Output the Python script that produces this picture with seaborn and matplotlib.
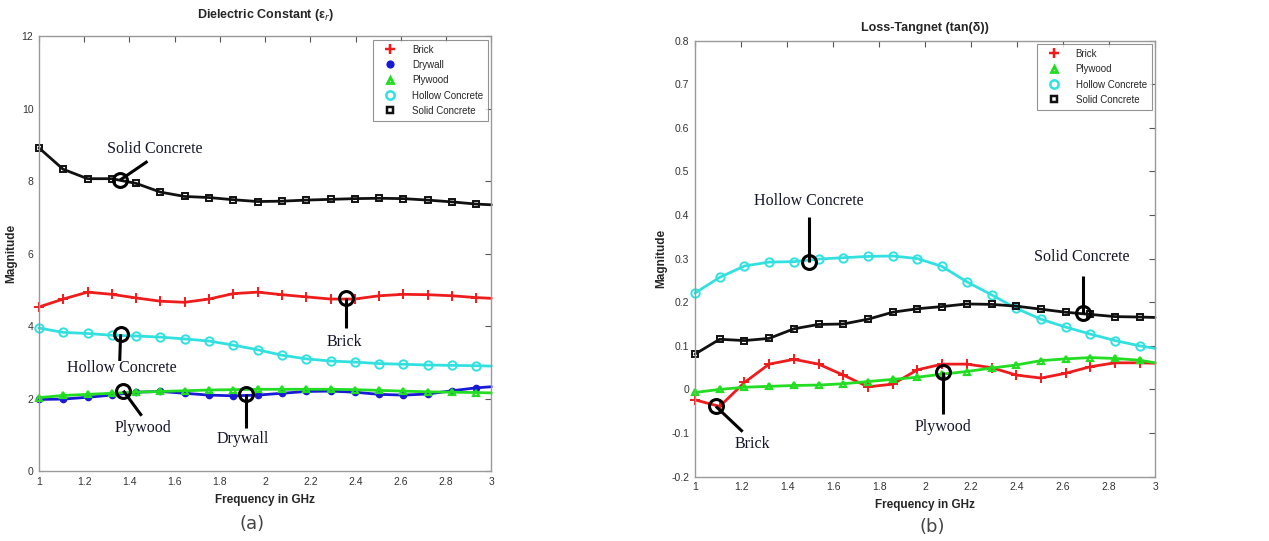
import numpy as np
import pandas as pd
import matplotlib
matplotlib.use('Agg')
import matplotlib.pyplot as plt
from matplotlib.lines import Line2D
import seaborn as sns

# marker frequencies (GHz); the last value 3.0 only closes the line
freq = [1.0, 1.107, 1.215, 1.322, 1.43, 1.537, 1.644, 1.752, 1.859, 1.967,
        2.074, 2.181, 2.289, 2.396, 2.504, 2.611, 2.718, 2.826, 2.933, 3.0]

# (a) dielectric constant
eps_brick = [4.53, 4.75, 4.94, 4.88, 4.78, 4.69, 4.66, 4.75, 4.90, 4.94,
             4.87, 4.81, 4.75, 4.75, 4.84, 4.88, 4.87, 4.84, 4.79, 4.77]
eps_drywall = [1.98, 1.99, 2.04, 2.10, 2.18, 2.20, 2.15, 2.10, 2.08, 2.10,
               2.15, 2.20, 2.21, 2.18, 2.12, 2.10, 2.13, 2.22, 2.30, 2.33]
eps_plywood = [2.03, 2.09, 2.12, 2.15, 2.18, 2.20, 2.22, 2.24, 2.25, 2.26,
               2.26, 2.26, 2.26, 2.25, 2.23, 2.21, 2.19, 2.18, 2.17, 2.16]
eps_hollow = [3.95, 3.83, 3.80, 3.75, 3.73, 3.70, 3.65, 3.59, 3.48, 3.35,
              3.20, 3.10, 3.04, 3.01, 2.97, 2.95, 2.93, 2.92, 2.91, 2.90]
eps_solid = [8.92, 8.33, 8.07, 8.07, 7.94, 7.70, 7.58, 7.55, 7.49, 7.44,
             7.45, 7.48, 7.50, 7.52, 7.53, 7.52, 7.48, 7.43, 7.37, 7.35]

# (b) loss tangent
tan_brick = [-0.024, -0.039, 0.016, 0.058, 0.069, 0.058, 0.033, 0.006, 0.012, 0.045,
             0.058, 0.058, 0.050, 0.033, 0.026, 0.037, 0.052, 0.061, 0.061, 0.060]
tan_plywood = [-0.007, 0.0, 0.005, 0.007, 0.009, 0.010, 0.013, 0.018, 0.023, 0.028,
               0.035, 0.041, 0.049, 0.056, 0.066, 0.070, 0.073, 0.071, 0.067, 0.061]
tan_hollow = [0.221, 0.257, 0.283, 0.292, 0.293, 0.299, 0.302, 0.305, 0.306, 0.300,
              0.282, 0.247, 0.217, 0.186, 0.161, 0.143, 0.127, 0.112, 0.100, 0.094]
tan_solid = [0.081, 0.115, 0.112, 0.117, 0.139, 0.149, 0.150, 0.161, 0.177, 0.185,
             0.190, 0.196, 0.195, 0.191, 0.184, 0.177, 0.172, 0.167, 0.166, 0.165]

styles = {
    'Brick': dict(color='#ee1c1c', marker='+', ms=7, mew=1.4, mfc='none'),
    'Drywall': dict(color='#1a1ad6', marker='o', ms=4.5, mew=1.0, mfc='#1a1ad6'),
    'Plywood': dict(color='#22dd22', marker='^', ms=5, mew=1.6, mfc='none'),
    'Hollow Concrete': dict(color='#33e0e0', marker='o', ms=6, mew=1.4, mfc='none'),
    'Solid Concrete': dict(color='#111111', marker='s', ms=5, mew=1.4, mfc='none'),
}

series_a = {'Brick': eps_brick, 'Drywall': eps_drywall, 'Plywood': eps_plywood,
            'Hollow Concrete': eps_hollow, 'Solid Concrete': eps_solid}
series_b = {'Brick': tan_brick, 'Plywood': tan_plywood,
            'Hollow Concrete': tan_hollow, 'Solid Concrete': tan_solid}

# annotation: label, circle (x, y), line end (x, y), text (x, y)
notes_a = [
    ('Solid Concrete', (1.358, 8.03), (1.48, 8.55), (1.51, 8.88)),
    ('Brick', (2.356, 4.79), (2.356, 3.94), (2.35, 3.57)),
    ('Hollow Concrete', (1.361, 3.78), (1.357, 3.04), (1.365, 2.84)),
    ('Plywood', (1.373, 2.22), (1.454, 1.53), (1.461, 1.18)),
    ('Drywall', (1.914, 2.12), (1.914, 1.18), (1.90, 0.90)),
]
notes_b = [
    ('Hollow Concrete', (1.494, 0.293), (1.494, 0.396), (1.495, 0.432)),
    ('Solid Concrete', (2.686, 0.175), (2.686, 0.26), (2.681, 0.303)),
    ('Brick', (1.091, -0.039), (1.207, -0.097), (1.25, -0.125)),
    ('Plywood', (2.08, 0.041), (2.08, -0.056), (2.08, -0.087)),
]

sns.set_style('white')
plt.rcParams['font.family'] = ['Liberation Sans', 'DejaVu Sans']

fig = plt.figure(figsize=(12.69, 5.41), dpi=100)
ax_a = fig.add_axes([0.0307, 0.129, 0.3565, 0.804])
ax_b = fig.add_axes([0.5477, 0.119, 0.3625, 0.806])

mark_idx = list(range(len(freq) - 1))


def draw(ax, series, notes, title, title_pad, ylabel_x, ylim, yticks):
    for name, vals in series.items():
        df = pd.DataFrame({'freq': freq, 'val': vals})
        st = styles[name]
        sns.lineplot(data=df, x='freq', y='val', ax=ax, color=st['color'], lw=2.0,
                     marker=st['marker'], ms=st['ms'], mew=st['mew'],
                     mfc=st['mfc'], mec=st['color'], markevery=mark_idx,
                     clip_on=False)
    for label, (cx, cy), (lx, ly), (tx, ty) in notes:
        ax.plot([cx, lx], [cy, ly], color='black', lw=2.2, solid_capstyle='butt')
        ax.plot(cx, cy, marker='o', ms=10, mfc='none', mec='black', mew=2.2)
        ax.text(tx, ty, label, ha='center', va='center', fontsize=11.5,
                family='Liberation Serif', color='#15152a')
    handles = [Line2D([], [], ls='none', marker=styles[n]['marker'],
                      ms=styles[n]['ms'], mew=styles[n]['mew'] + 0.4,
                      mfc=styles[n]['mfc'], mec=styles[n]['color'], label=n)
               for n in series]
    leg = ax.legend(handles=handles, loc='upper right', fontsize=7,
                    frameon=True, fancybox=False, borderaxespad=0.35,
                    handletextpad=1.0, labelspacing=0.55, borderpad=0.5,
                    handlelength=2.5)
    leg.get_frame().set_edgecolor('#777777')
    leg.get_frame().set_linewidth(0.8)
    ax.set_xlim(1, 3)
    ax.set_ylim(*ylim)
    xt = np.round(np.arange(1, 3.01, 0.2), 1)
    ax.set_xticks(xt)
    ax.set_xticklabels([f'{v:g}' for v in xt])
    ax.set_yticks(yticks)
    ax.set_yticklabels([f'{v:g}' for v in yticks])
    ax.tick_params(direction='in', length=4, width=0.8, color='#555555',
                   labelsize=7.5, labelcolor='#333333', top=True, right=True, pad=4)
    for sp in ax.spines.values():
        sp.set_color('#999999')
        sp.set_linewidth(1.0)
    ax.set_title(title, fontsize=9, fontweight='bold', pad=title_pad)
    ax.set_xlabel('Frequency in GHz', fontsize=8.5, fontweight='bold', labelpad=5)
    ax.set_ylabel('Magnitude', fontsize=8.5, fontweight='bold')
    ax.yaxis.set_label_coords(ylabel_x, 0.5)


draw(ax_a, series_a, notes_a, 'Dielectric Constant (ε$_r$)', 13, -0.049,
     (0, 12), list(range(0, 13, 2)))
draw(ax_b, series_b, notes_b, 'Loss-Tangnet (tan(δ))', 7, -0.061,
     (-0.2, 0.8), [round(v, 1) for v in np.arange(-0.2, 0.81, 0.1)])

fig.text(0.1986, 0.031, '(a)', ha='center', va='center', fontsize=13,
         family='DejaVu Sans', color='#444444')
fig.text(0.735, 0.026, '(b)', ha='center', va='center', fontsize=13,
         family='DejaVu Sans', color='#444444')

fig.savefig('out.png', dpi=100)
